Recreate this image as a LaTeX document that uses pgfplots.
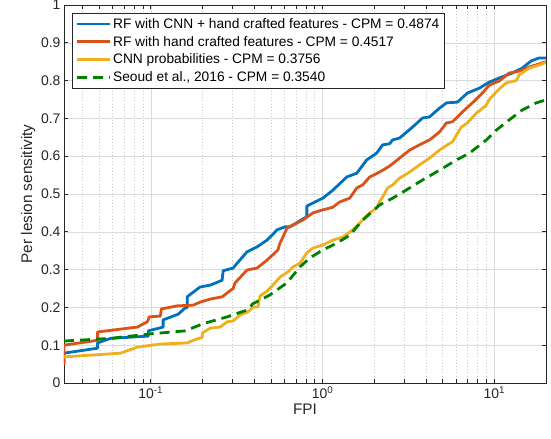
\documentclass[border=0pt]{standalone}
\usepackage{fontspec}
\setmainfont{Liberation Sans}
\usepackage{pgfplots}
\pgfplotsset{compat=1.18}

\definecolor{mblue}{rgb}{0,0.447,0.741}
\definecolor{morange}{rgb}{0.85,0.325,0.098}
\definecolor{myellow}{rgb}{0.929,0.694,0.125}
\definecolor{mgreen}{rgb}{0,0.5,0}
\definecolor{axgray}{rgb}{0.15,0.15,0.15}

\begin{document}
\begin{tikzpicture}
\begin{axis}[
  scale only axis,
  width=482bp, height=378bp,
  xmode=log,
  xmin=0.03125, xmax=20,
  ymin=0, ymax=1,
  xtick={0.1,1,10},
  xticklabels={10\textsuperscript{-1},10\textsuperscript{0},10\textsuperscript{1}},
  minor xtick={0.04,0.05,0.06,0.07,0.08,0.09,0.2,0.3,0.4,0.5,0.6,0.7,0.8,0.9,2,3,4,5,6,7,8,9},
  ytick={0,0.1,0.2,0.3,0.4,0.5,0.6,0.7,0.8,0.9,1},
  /pgf/number format/assume math mode=true,
  yticklabel style={/pgf/number format/fixed},
  tick label style={font=\fontsize{14}{16}\selectfont, text=axgray},
  label style={font=\fontsize{15.4}{18}\selectfont, text=axgray},
  xlabel={FPI},
  ylabel={Per lesion sensitivity},
  xlabel style={yshift=2bp},
  ylabel style={yshift=-1bp},
  tick align=inside,
  major tick length=4.5bp,
  minor tick length=4.5bp,
  every tick/.style={axgray, line width=0.6pt},
  axis line style={axgray, line width=0.6pt},
  grid=both,
  major grid style={black!14, line width=0.5pt},
  minor grid style={black!22, line width=0.5pt, dash pattern=on 1bp off 2.2bp},
  legend cell align=left,
  legend style={
    at={(0.0166,0.979)}, anchor=north west,
    draw=axgray, line width=0.6pt, fill=white,
    font=\fontsize{13.8}{16}\selectfont,
    row sep=2.4bp, inner xsep=3bp, inner ysep=3bp,
  },
  legend image code/.code={\draw[#1] (0bp,0bp) -- (33bp,0bp);},
  every axis plot/.append style={line width=2.8bp, line join=round},
]

% RF with CNN + hand crafted features
\addplot[mblue] coordinates {
(0.03125,0.05) (0.03125,0.079) (0.049,0.092) (0.049,0.106) (0.0583,0.118)
(0.0968,0.124) (0.0968,0.138) (0.1137,0.146) (0.118,0.148) (0.118,0.167)
(0.1445,0.182) (0.158,0.198) (0.163,0.200) (0.163,0.228) (0.174,0.238)
(0.194,0.254) (0.2218,0.259) (0.237,0.264) (0.2603,0.272) (0.2638,0.297)
(0.3016,0.304) (0.3184,0.317) (0.3636,0.347) (0.4154,0.360) (0.475,0.378)
(0.508,0.391) (0.543,0.405) (0.604,0.413) (0.6457,0.413) (0.7686,0.434)
(0.8107,0.440) (0.8107,0.468) (0.8784,0.476) (1.004,0.489) (1.148,0.510)
(1.384,0.545) (1.582,0.555) (1.807,0.590) (2.066,0.608) (2.239,0.630)
(2.459,0.633) (2.559,0.643) (2.81,0.648) (3.343,0.677) (3.82,0.701)
(4.197,0.704) (4.796,0.727) (5.265,0.741) (6.099,0.743) (6.971,0.767)
(8.184,0.780) (9.354,0.796) (11.13,0.810) (12.71,0.820) (14.53,0.833)
(16.4,0.852) (18.24,0.860) (20,0.860)
};
\addlegendentry{RF with CNN + hand crafted features - CPM = 0.4874}

% RF with hand crafted features
\addplot[morange] coordinates {
(0.03125,0.048) (0.03125,0.100) (0.049,0.113) (0.049,0.135) (0.0836,0.148)
(0.0955,0.162) (0.0981,0.175) (0.1137,0.177) (0.1153,0.196) (0.1426,0.204)
(0.1766,0.206) (0.194,0.214) (0.2218,0.222) (0.2603,0.228) (0.3016,0.250)
(0.3097,0.265) (0.3636,0.299) (0.4154,0.304) (0.475,0.325) (0.55,0.352)
(0.5652,0.370) (0.588,0.386) (0.6206,0.410) (0.6725,0.418) (0.7686,0.431)
(0.8784,0.450) (1.004,0.458) (1.148,0.465) (1.26,0.479) (1.44,0.489)
(1.582,0.516) (1.714,0.524) (1.881,0.545) (2.15,0.558) (2.459,0.574)
(2.81,0.595) (3.212,0.616) (3.671,0.630) (4.197,0.643) (4.796,0.664)
(5.265,0.688) (5.705,0.691) (6.521,0.717) (7.453,0.741) (8.518,0.767)
(9.354,0.788) (10.69,0.799) (12.22,0.820) (13.96,0.825) (15.96,0.836)
(18.24,0.844) (20,0.850)
};
\addlegendentry{RF with hand crafted features - CPM = 0.4517}

% CNN probabilities
\addplot[myellow] coordinates {
(0.03125,0.069) (0.0666,0.079) (0.0836,0.095) (0.1137,0.103) (0.163,0.106)
(0.1766,0.113) (0.194,0.119) (0.1993,0.120) (0.1993,0.132) (0.2218,0.145)
(0.2535,0.148) (0.2786,0.162) (0.3016,0.164) (0.3313,0.180) (0.3685,0.188)
(0.394,0.201) (0.421,0.201) (0.4325,0.230) (0.475,0.243) (0.5145,0.259)
(0.5652,0.280) (0.6288,0.294) (0.6725,0.307) (0.7384,0.317) (0.8107,0.344)
(0.8784,0.357) (1.004,0.365) (1.148,0.378) (1.312,0.386) (1.499,0.405)
(1.646,0.423) (1.881,0.450) (2.066,0.463) (2.15,0.480) (2.239,0.492)
(2.393,0.516) (2.559,0.524) (2.81,0.542) (3.212,0.558) (3.671,0.577)
(4.197,0.595) (4.796,0.616) (5.336,0.630) (5.705,0.638) (6.434,0.677)
(6.971,0.688) (7.862,0.714) (8.184,0.720) (8.987,0.735) (9.354,0.750)
(10.27,0.770) (11.13,0.785) (11.74,0.794) (13.42,0.800) (13.96,0.815)
(15.96,0.833) (18.24,0.841) (20,0.848)
};
\addlegendentry{CNN probabilities - CPM = 0.3756}

% Seoud et al., 2016
\addplot[mgreen, dash pattern=on 10bp off 6bp] coordinates {
(0.03125,0.111) (0.0583,0.118) (0.0995,0.130) (0.1588,0.138) (0.2018,0.157)
(0.2786,0.175) (0.3636,0.193) (0.394,0.210) (0.4943,0.233) (0.6206,0.265)
(0.7384,0.307) (0.8437,0.331) (1.004,0.352) (1.211,0.370) (1.44,0.391)
(1.714,0.431) (2.15,0.471) (2.559,0.489) (3.085,0.511) (3.82,0.537)
(4.796,0.563) (6.018,0.590) (7.16,0.608) (8.987,0.643) (10.27,0.669)
(12.22,0.696) (14.53,0.722) (17.53,0.741) (20,0.749)
};
\addlegendentry{Seoud et al., 2016 - CPM = 0.3540}

\end{axis}
\pgfresetboundingbox
\path ([xshift=-64bp,yshift=-56bp]current axis.south west)
  rectangle ([xshift=5bp,yshift=5bp]current axis.north east);
\end{tikzpicture}
\end{document}
